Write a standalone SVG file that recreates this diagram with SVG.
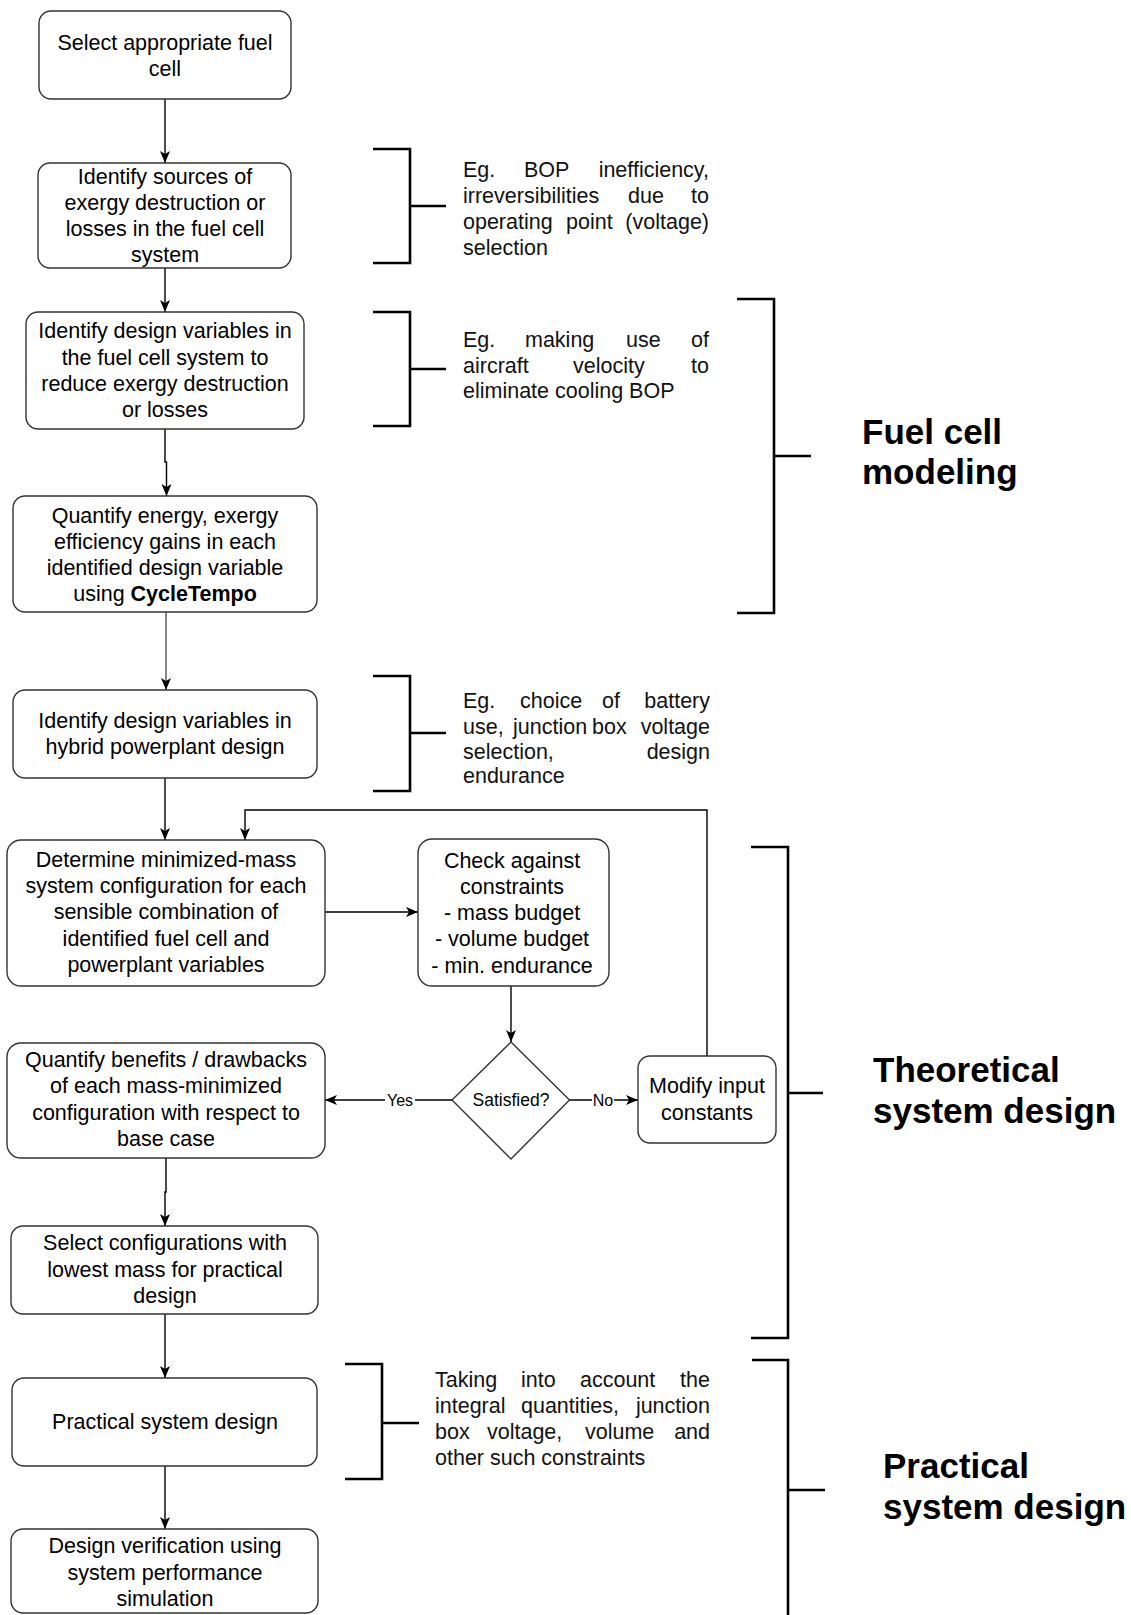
<svg xmlns="http://www.w3.org/2000/svg" width="1131" height="1615" viewBox="0 0 1131 1615">
<defs>
<style>
.box{fill:#fff;stroke:#333;stroke-width:1.4}
.t{font-family:'Liberation Sans',Arial,Helvetica,sans-serif;font-size:21.5px;fill:#000;text-anchor:middle}
.a{font-family:'Liberation Sans',Arial,Helvetica,sans-serif;font-size:21.5px;fill:#111}
.e{text-anchor:end}
.lab{font-family:'Liberation Sans',Arial,Helvetica,sans-serif;font-size:35px;font-weight:bold;fill:#000}
.sm{font-family:'Liberation Sans',Arial,Helvetica,sans-serif;font-size:16px;fill:#000;text-anchor:middle}
.c{fill:none;stroke:#000;stroke-width:1.4}
.br{fill:none;stroke:#000;stroke-width:2.6}
</style>
<marker id="arr" viewBox="0 0 12 10" refX="12" refY="5" markerWidth="12" markerHeight="10" markerUnits="userSpaceOnUse" orient="auto">
<path d="M0,0 L12,5 L0,10 L3,5 z" fill="#000"/>
</marker>
</defs>
<rect width="1131" height="1615" fill="#fff"/>

<g id="connectors">
<path class="c" d="M165 99 V163" marker-end="url(#arr)"/>
<path class="c" d="M165 268 V312" marker-end="url(#arr)"/>
<path class="c" d="M165 429 V462 H166.5 V496" marker-end="url(#arr)"/>
<path class="c" style="stroke:#555" d="M166 612 V690" marker-end="url(#arr)"/>
<path class="c" d="M165 778 V840" marker-end="url(#arr)"/>
<path class="c" d="M325 912 H418" marker-end="url(#arr)"/>
<path class="c" d="M511 986 V1042" marker-end="url(#arr)"/>
<path class="c" d="M452 1100 H325" marker-end="url(#arr)"/>
<path class="c" d="M569 1100 H638" marker-end="url(#arr)"/>
<path class="c" d="M707 1056 V810 H245 V840" marker-end="url(#arr)"/>
<path class="c" d="M166 1158 V1192 H165 V1226" marker-end="url(#arr)"/>
<path class="c" d="M165 1314 V1378" marker-end="url(#arr)"/>
<path class="c" d="M165 1466 V1529" marker-end="url(#arr)"/>
<rect x="385" y="1090" width="30" height="20" fill="#fff"/>
<text class="sm" x="400" y="1106">Yes</text>
<rect x="592" y="1090" width="22" height="20" fill="#fff"/>
<text class="sm" x="603" y="1106">No</text>
</g>

<g id="n1">
<rect class="box" x="39" y="11" width="252" height="88" rx="12"/>
<text class="t" x="165" y="50">Select appropriate fuel</text>
<text class="t" x="165" y="76">cell</text>
</g>
<g id="n2">
<rect class="box" x="38" y="163" width="253" height="105" rx="12"/>
<text class="t" x="165" y="184">Identify sources of</text>
<text class="t" x="165" y="210">exergy destruction or</text>
<text class="t" x="165" y="236">losses in the fuel cell</text>
<text class="t" x="165" y="262">system</text>
</g>
<g id="n3">
<rect class="box" x="26" y="312" width="278" height="117" rx="12"/>
<text class="t" x="165" y="338">Identify design variables in</text>
<text class="t" x="165" y="364.5">the fuel cell system to</text>
<text class="t" x="165" y="391">reduce exergy destruction</text>
<text class="t" x="165" y="417">or losses</text>
</g>
<g id="n4">
<rect class="box" x="13" y="496" width="304" height="116" rx="12"/>
<text class="t" x="165" y="523">Quantify energy, exergy</text>
<text class="t" x="165" y="548.5">efficiency gains in each</text>
<text class="t" x="165" y="575">identified design variable</text>
<text class="t" x="165" y="601">using <tspan font-weight="bold">CycleTempo</tspan></text>
</g>
<g id="n5">
<rect class="box" x="13" y="690" width="304" height="88" rx="12"/>
<text class="t" x="165" y="728">Identify design variables in</text>
<text class="t" x="165" y="754">hybrid powerplant design</text>
</g>
<g id="n6">
<rect class="box" x="7" y="840" width="318" height="146" rx="14"/>
<text class="t" x="166" y="867">Determine minimized-mass</text>
<text class="t" x="166" y="893">system configuration for each</text>
<text class="t" x="166" y="919">sensible combination of</text>
<text class="t" x="166" y="946">identified fuel cell and</text>
<text class="t" x="166" y="972">powerplant variables</text>
</g>
<g id="n7">
<rect class="box" x="418" y="839" width="191" height="147" rx="14"/>
<text class="t" x="512" y="868">Check against</text>
<text class="t" x="512" y="894">constraints</text>
<text class="t" x="512" y="920">- mass budget</text>
<text class="t" x="512" y="946">- volume budget</text>
<text class="t" x="512" y="973">- min. endurance</text>
</g>
<g id="n8">
<path class="box" d="M511 1042 L569.5 1100 L511 1159 L452 1100 Z"/>
<text class="t" style="font-size:17.5px" x="511" y="1106">Satisfied?</text>
</g>
<g id="n9">
<rect class="box" x="638" y="1056" width="138" height="87" rx="12"/>
<text class="t" x="707" y="1093">Modify input</text>
<text class="t" x="707" y="1120">constants</text>
</g>
<g id="n10">
<rect class="box" x="7" y="1043" width="318" height="115" rx="14"/>
<text class="t" x="166" y="1067">Quantify benefits / drawbacks</text>
<text class="t" x="166" y="1093">of each mass-minimized</text>
<text class="t" x="166" y="1120">configuration with respect to</text>
<text class="t" x="166" y="1146">base case</text>
</g>
<g id="n11">
<rect class="box" x="11" y="1226" width="307" height="88" rx="12"/>
<text class="t" x="165" y="1250">Select configurations with</text>
<text class="t" x="165" y="1277">lowest mass for practical</text>
<text class="t" x="165" y="1303">design</text>
</g>
<g id="n12">
<rect class="box" x="12" y="1378" width="305" height="88" rx="12"/>
<text class="t" x="165" y="1429">Practical system design</text>
</g>
<g id="n13">
<rect class="box" x="11" y="1529" width="307" height="84" rx="12"/>
<text class="t" x="165" y="1553">Design verification using</text>
<text class="t" x="165" y="1580">system performance</text>
<text class="t" x="165" y="1606">simulation</text>
</g>

<g id="annot1">
<path class="br" d="M373 149 H410 V263 H373 M410 206 H446"/>
<text class="a" y="177"><tspan x="463">Eg.</tspan><tspan x="524">BOP</tspan></text>
<text class="a e" x="709" y="177">inefficiency,</text>
<text class="a" y="203"><tspan x="463">irreversibilities</tspan><tspan x="628">due</tspan></text>
<text class="a e" x="709" y="203">to</text>
<text class="a" y="229"><tspan x="463">operating</tspan><tspan x="566">point</tspan></text>
<text class="a e" x="709" y="229">(voltage)</text>
<text class="a" x="463" y="255">selection</text>
</g>
<g id="annot2">
<path class="br" d="M373 312 H410 V426 H373 M410 369 H446"/>
<text class="a" y="347"><tspan x="463">Eg.</tspan><tspan x="525">making</tspan><tspan x="626">use</tspan></text>
<text class="a e" x="709" y="347">of</text>
<text class="a" y="373"><tspan x="463">aircraft</tspan><tspan x="573">velocity</tspan></text>
<text class="a e" x="709" y="373">to</text>
<text class="a" x="463" y="398">eliminate cooling BOP</text>
</g>
<g id="annot3">
<path class="br" d="M373 676 H410 V791 H373 M410 733 H446"/>
<text class="a" y="708"><tspan x="463">Eg.</tspan><tspan x="520">choice</tspan><tspan x="602">of</tspan></text>
<text class="a e" x="710" y="708">battery</text>
<text class="a" y="734"><tspan x="463">use,</tspan><tspan x="513">junction</tspan><tspan x="592">box</tspan></text>
<text class="a e" x="710" y="734">voltage</text>
<text class="a" x="463" y="759">selection,</text>
<text class="a e" x="710" y="759">design</text>
<text class="a" x="463" y="783">endurance</text>
</g>
<g id="annot4">
<path class="br" d="M345 1364 H382 V1479 H345 M382 1423 H419"/>
<text class="a" y="1387"><tspan x="435">Taking</tspan><tspan x="521">into</tspan><tspan x="580">account</tspan></text>
<text class="a e" x="710" y="1387">the</text>
<text class="a" y="1413"><tspan x="435">integral</tspan><tspan x="521">quantities,</tspan></text>
<text class="a e" x="710" y="1413">junction</text>
<text class="a" y="1439"><tspan x="435">box</tspan><tspan x="487">voltage,</tspan><tspan x="585">volume</tspan></text>
<text class="a e" x="710" y="1439">and</text>
<text class="a" x="435" y="1465">other such constraints</text>
</g>

<g id="phase-fuel">
<path class="br" d="M737 299 H774 V613 H737 M774 456 H811"/>
<text class="lab" x="862" y="444">Fuel cell</text>
<text class="lab" x="862" y="484">modeling</text>
</g>
<g id="phase-theory">
<path class="br" d="M751 847 H788 V1338 H751 M788 1093 H823"/>
<text class="lab" x="873" y="1082">Theoretical</text>
<text class="lab" x="873" y="1123">system design</text>
</g>
<g id="phase-practical">
<path class="br" d="M752 1360 H788 V1625 M788 1490 H825"/>
<text class="lab" x="883" y="1478">Practical</text>
<text class="lab" x="883" y="1519">system design</text>
</g>
</svg>
